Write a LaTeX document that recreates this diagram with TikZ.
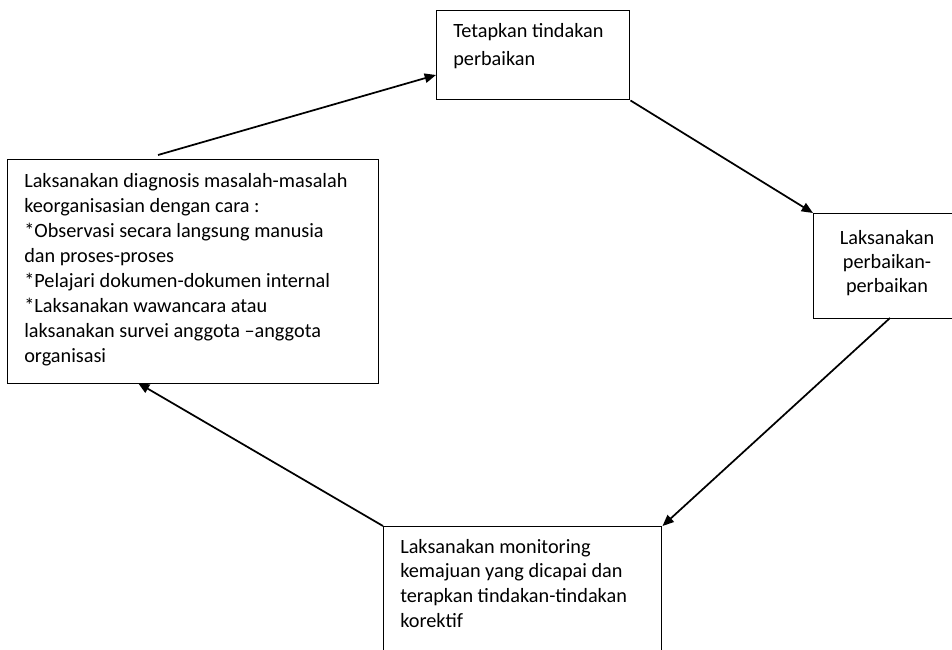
\documentclass[tikz,border=0pt]{standalone}
\usepackage{fontspec}
\setmainfont{Carlito}
\usetikzlibrary{arrows.meta}
\begin{document}
\begin{tikzpicture}[x=0.75pt,y=-0.75pt,
  box/.style={draw, line width=1.1pt, inner sep=0pt, anchor=north west},
  txt/.style={inner sep=0pt, anchor=base west, align=flush left},
  arr/.style={line width=1.3pt, -{Triangle[length=8.5pt,width=7pt]}}]
\useasboundingbox (0,0) rectangle (952,649);
\clip (0,0) rectangle (952,649);
% boxes
\node[box, minimum width=193*0.75pt, minimum height=89*0.75pt] (T) at (436,10) {};
\node[box, minimum width=154*0.75pt, minimum height=105*0.75pt] (R) at (813,213) {};
\node[box, minimum width=371*0.75pt, minimum height=224*0.75pt] (L) at (7,159) {};
\node[box, minimum width=278*0.75pt, minimum height=170*0.75pt] (B) at (383,526) {};
% texts
\node[txt, text width=170*0.75pt, font=\fontsize{15.2}{21}\selectfont] (Tt) at (453,38)
  {\spaceskip=0pt\xspaceskip=0pt\relax Tetapkan tindakan\\perbaikan};
\node[inner sep=0pt, anchor=base, align=flush center, text width=140*0.75pt, font=\fontsize{15.2}{18}\selectfont] (Rt) at (887,244)
  {\spaceskip=0pt\xspaceskip=0pt\relax Laksanakan\\perbaikan-\\perbaikan};
\node[txt, text width=350*0.75pt, font=\fontsize{15.2}{18.75}\selectfont] (Lt) at (24,187)
  {\spaceskip=0pt\xspaceskip=0pt\relax Laksanakan diagnosis masalah-masalah\\keorganisasian dengan cara :\\{}*Observasi secara langsung manusia\\dan proses-proses\\{}*Pelajari dokumen-dokumen internal\\{}*Laksanakan wawancara atau\\laksanakan survei anggota –anggota\\organisasi};
\node[txt, text width=260*0.75pt, font=\fontsize{15.2}{18.5}\selectfont] (Bt) at (400,553)
  {\spaceskip=0pt\xspaceskip=0pt\relax Laksanakan monitoring\\kemajuan yang dicapai dan\\terapkan tindakan-tindakan\\korektif};
% connector end points
\coordinate (a1s) at (158,155);
\coordinate (a1e) at (436,75);
\coordinate (a3s) at (890,318);
\coordinate (a4e) at (138,383);
% connectors
\draw[arr] (a1s) -- (a1e);
\draw[arr] (T.south east) -- (R.north west);
\draw[arr] (a3s) -- (B.north east);
\draw[arr] (B.north west) -- (a4e);
\end{tikzpicture}
\end{document}
